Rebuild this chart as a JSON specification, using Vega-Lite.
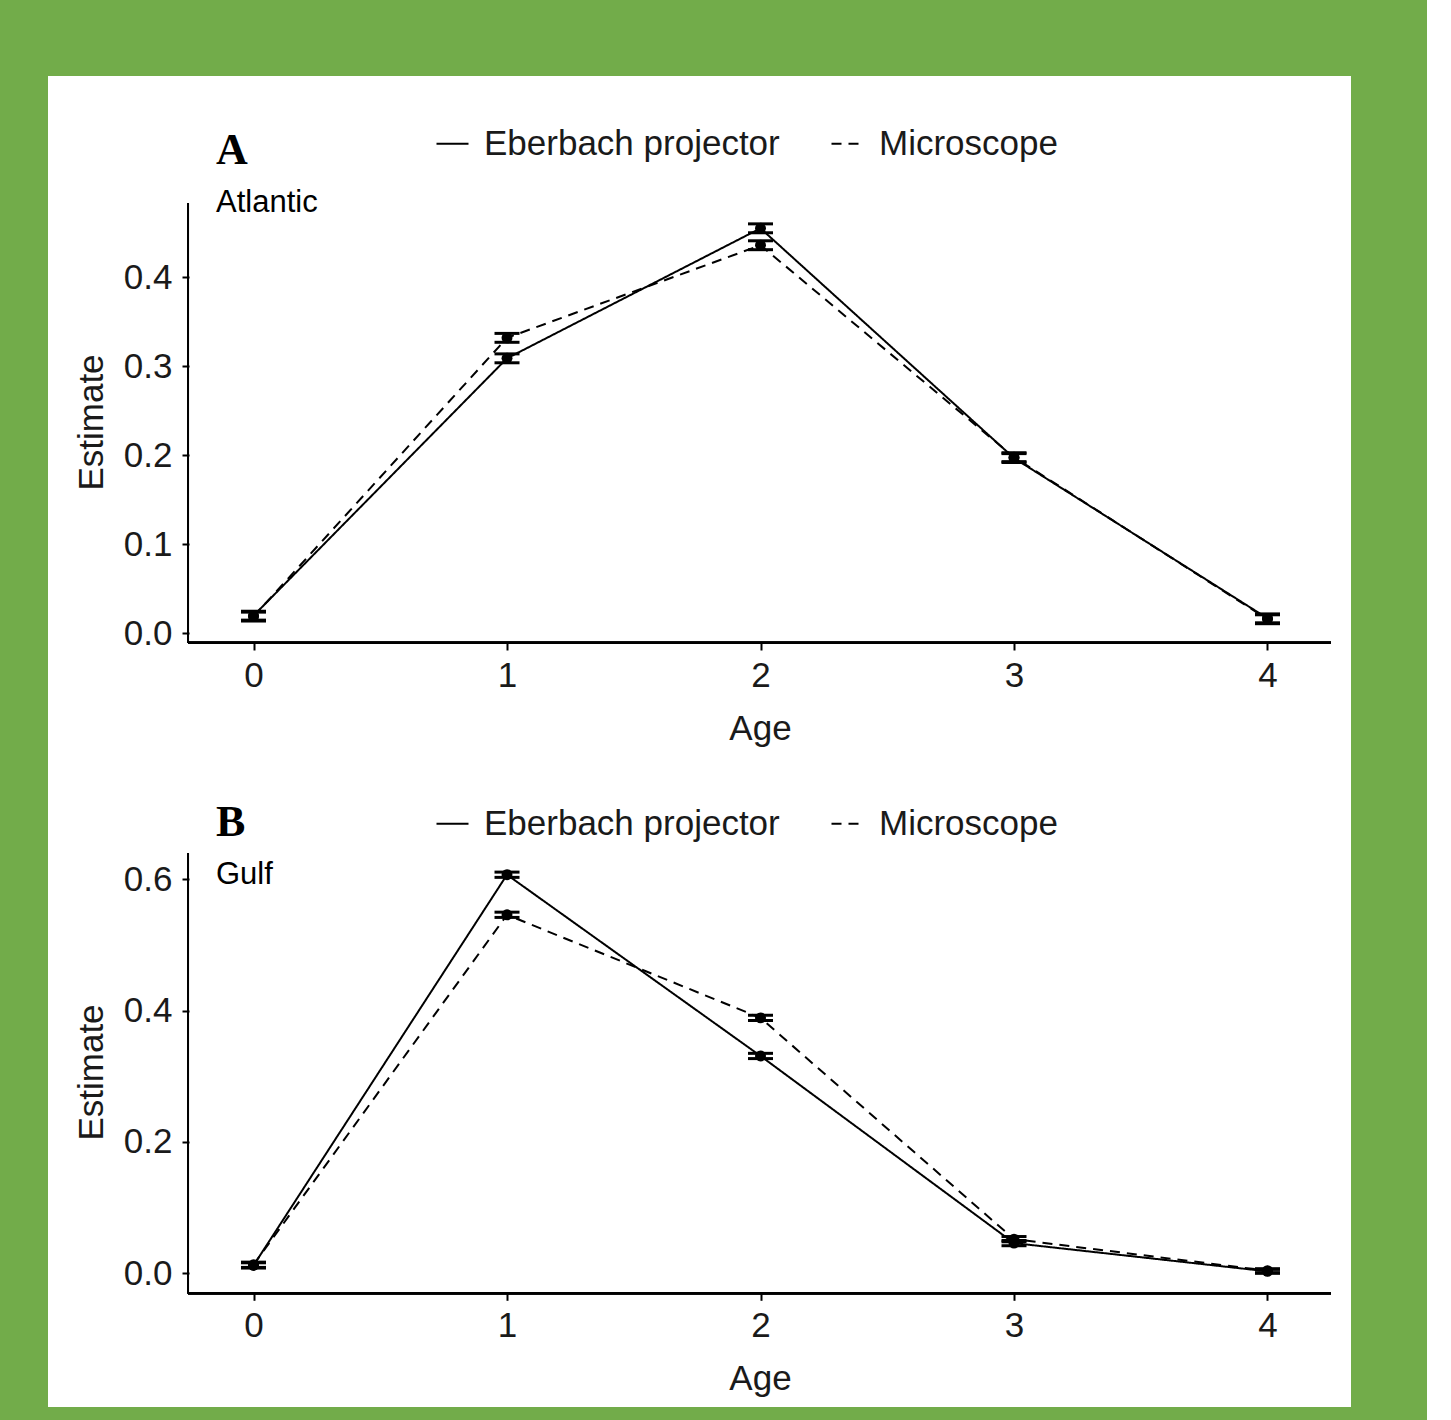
{
  "$schema": "https://vega.github.io/schema/vega-lite/v6.json",
  "background": "#72AC4A",
  "padding": {"left": 48, "top": 76, "right": 76, "bottom": 13},
  "spacing": 0,
  "bounds": "flush",
  "config": {
    "view": {"fill": "white", "stroke": null},
    "font": "Liberation Sans",
    "axis": {"domain": false, "grid": false, "tickSize": 7, "tickWidth": 2, "tickColor": "#000000", "labelFont": "Liberation Sans", "labelFontSize": 35, "labelColor": "#1a1a1a", "titleFont": "Liberation Sans", "titleFontSize": 35, "titleFontWeight": "normal", "titleColor": "#1a1a1a", "labelFlush": false, "labelOverlap": false}
  },
  "datasets": {
    "est": [
      {"region": "Atlantic", "method": "Eberbach projector", "age": 0, "estimate": 0.020, "se": 0.005},
      {"region": "Atlantic", "method": "Eberbach projector", "age": 1, "estimate": 0.309, "se": 0.005},
      {"region": "Atlantic", "method": "Eberbach projector", "age": 2, "estimate": 0.455, "se": 0.005},
      {"region": "Atlantic", "method": "Eberbach projector", "age": 3, "estimate": 0.197, "se": 0.005},
      {"region": "Atlantic", "method": "Eberbach projector", "age": 4, "estimate": 0.017, "se": 0.005},
      {"region": "Atlantic", "method": "Microscope", "age": 0, "estimate": 0.019, "se": 0.005},
      {"region": "Atlantic", "method": "Microscope", "age": 1, "estimate": 0.332, "se": 0.005},
      {"region": "Atlantic", "method": "Microscope", "age": 2, "estimate": 0.436, "se": 0.005},
      {"region": "Atlantic", "method": "Microscope", "age": 3, "estimate": 0.198, "se": 0.005},
      {"region": "Atlantic", "method": "Microscope", "age": 4, "estimate": 0.016, "se": 0.005},
      {"region": "Gulf", "method": "Eberbach projector", "age": 0, "estimate": 0.012, "se": 0.004},
      {"region": "Gulf", "method": "Eberbach projector", "age": 1, "estimate": 0.607, "se": 0.004},
      {"region": "Gulf", "method": "Eberbach projector", "age": 2, "estimate": 0.331, "se": 0.004},
      {"region": "Gulf", "method": "Eberbach projector", "age": 3, "estimate": 0.046, "se": 0.004},
      {"region": "Gulf", "method": "Eberbach projector", "age": 4, "estimate": 0.003, "se": 0.003},
      {"region": "Gulf", "method": "Microscope", "age": 0, "estimate": 0.013, "se": 0.004},
      {"region": "Gulf", "method": "Microscope", "age": 1, "estimate": 0.546, "se": 0.004},
      {"region": "Gulf", "method": "Microscope", "age": 2, "estimate": 0.389, "se": 0.004},
      {"region": "Gulf", "method": "Microscope", "age": 3, "estimate": 0.052, "se": 0.004},
      {"region": "Gulf", "method": "Microscope", "age": 4, "estimate": 0.004, "se": 0.003}
    ]
  },
  "resolve": {"scale": {"strokeDash": "independent"}, "legend": {"strokeDash": "independent"}},
  "vconcat": [
    {
      "width": 1303,
      "height": 694,
      "title": {"text": "A", "subtitle": "Atlantic", "anchor": "start", "frame": "group", "dx": 168, "offset": -142, "font": "Liberation Serif", "fontSize": 44, "fontWeight": "bold", "color": "#000000", "subtitleFont": "Liberation Sans", "subtitleFontSize": 31, "subtitleColor": "#000000", "subtitlePadding": 15},
      "data": {"name": "est"},
      "transform": [{"filter": "datum.region === 'Atlantic'"}],
      "layer": [
        {
          "mark": {"type": "line", "color": "#000000", "strokeWidth": 2},
          "encoding": {
            "x": {"field": "age", "type": "quantitative", "title": "Age", "scale": {"domain": [-0.8107, 4.3294], "nice": false, "zero": false},
                  "axis": {"title": "Age", "values": [0, 1, 2, 3, 4], "format": "d", "orient": "bottom", "offset": -127, "labelPadding": 8, "titlePadding": 18, "titleX": 712}},
            "y": {"field": "estimate", "type": "quantitative", "title": "Estimate", "scale": {"domain": [-0.15329, 0.62605], "nice": false, "zero": false},
                  "axis": {"title": "Estimate", "values": [0, 0.1, 0.2, 0.3, 0.4], "format": ".1f", "orient": "left", "offset": -141, "labelPadding": 10, "titlePadding": 14, "titleY": 346}},
            "strokeDash": {"field": "method", "type": "nominal",
                  "scale": {"domain": ["Eberbach projector", "Microscope"], "range": [[1, 0], [10, 7]]},
                  "legend": {"orient": "none", "legendX": 387, "legendY": 50, "direction": "horizontal", "title": null, "symbolType": "stroke", "symbolSize": 1024, "symbolStrokeWidth": 2, "symbolStrokeColor": "#000000", "labelFontSize": 35, "labelFont": "Liberation Sans", "labelColor": "#1a1a1a", "labelOffset": 14, "labelLimit": 500, "columnPadding": 47, "padding": 0}}
          }
        },
        {
          "mark": {"type": "rule", "color": "#000000", "strokeWidth": 2},
          "encoding": {
            "x": {"datum": -0.2584, "type": "quantitative", "title": "Age"},
            "x2": {"datum": 4.2505},
            "y": {"datum": -0.0103, "type": "quantitative", "title": "Estimate"}
          }
        },
        {
          "mark": {"type": "rule", "color": "#000000", "strokeWidth": 2},
          "encoding": {
            "x": {"datum": -0.2584, "type": "quantitative", "title": "Age"},
            "y": {"datum": -0.0103, "type": "quantitative", "title": "Estimate"},
            "y2": {"datum": 0.4834}
          }
        },
        {
          "mark": {"type": "errorbar", "color": "#000000", "thickness": 2, "opacity": 1, "rule": {"opacity": 1, "color": "#000000"}, "ticks": {"size": 25, "thickness": 3, "color": "#000000", "opacity": 1}},
          "encoding": {
            "x": {"field": "age", "type": "quantitative", "title": "Age"},
            "y": {"field": "estimate", "type": "quantitative", "title": "Estimate"},
            "yError": {"field": "se"}
          }
        },
        {
          "mark": {"type": "point", "filled": true, "size": 120, "color": "#000000", "opacity": 1},
          "encoding": {
            "x": {"field": "age", "type": "quantitative", "title": "Age"},
            "y": {"field": "estimate", "type": "quantitative", "title": "Estimate"}
          }
        }
      ]
    },
    {
      "width": 1303,
      "height": 637,
      "title": {"text": "B", "subtitle": "Gulf", "anchor": "start", "frame": "group", "dx": 168, "offset": -120, "font": "Liberation Serif", "fontSize": 44, "fontWeight": "bold", "color": "#000000", "subtitleFont": "Liberation Sans", "subtitleFontSize": 31, "subtitleColor": "#000000", "subtitlePadding": 15},
      "data": {"name": "est"},
      "transform": [{"filter": "datum.region === 'Gulf'"}],
      "layer": [
        {
          "mark": {"type": "line", "color": "#000000", "strokeWidth": 2},
          "encoding": {
            "x": {"field": "age", "type": "quantitative", "title": "Age", "scale": {"domain": [-0.8107, 4.3294], "nice": false, "zero": false},
                  "axis": {"title": "Age", "values": [0, 1, 2, 3, 4], "format": "d", "orient": "bottom", "offset": -113.7, "labelPadding": 8, "titlePadding": 18, "titleX": 712}},
            "y": {"field": "estimate", "type": "quantitative", "title": "Estimate", "scale": {"domain": [-0.2036, 0.7665], "nice": false, "zero": false},
                  "axis": {"title": "Estimate", "values": [0, 0.2, 0.4, 0.6], "format": ".1f", "orient": "left", "offset": -141, "labelPadding": 10, "titlePadding": 14, "titleY": 302}},
            "strokeDash": {"field": "method", "type": "nominal",
                  "scale": {"domain": ["Eberbach projector", "Microscope"], "range": [[1, 0], [10, 7]]},
                  "legend": {"orient": "none", "legendX": 387, "legendY": 36, "direction": "horizontal", "title": null, "symbolType": "stroke", "symbolSize": 1024, "symbolStrokeWidth": 2, "symbolStrokeColor": "#000000", "labelFontSize": 35, "labelFont": "Liberation Sans", "labelColor": "#1a1a1a", "labelOffset": 14, "labelLimit": 500, "columnPadding": 47, "padding": 0}}
          }
        },
        {
          "mark": {"type": "rule", "color": "#000000", "strokeWidth": 2},
          "encoding": {
            "x": {"datum": -0.2584, "type": "quantitative", "title": "Age"},
            "x2": {"datum": 4.2505},
            "y": {"datum": -0.0305, "type": "quantitative", "title": "Estimate"}
          }
        },
        {
          "mark": {"type": "rule", "color": "#000000", "strokeWidth": 2},
          "encoding": {
            "x": {"datum": -0.2584, "type": "quantitative", "title": "Age"},
            "y": {"datum": -0.0305, "type": "quantitative", "title": "Estimate"},
            "y2": {"datum": 0.6400}
          }
        },
        {
          "mark": {"type": "errorbar", "color": "#000000", "thickness": 2, "opacity": 1, "rule": {"opacity": 1, "color": "#000000"}, "ticks": {"size": 25, "thickness": 3, "color": "#000000", "opacity": 1}},
          "encoding": {
            "x": {"field": "age", "type": "quantitative", "title": "Age"},
            "y": {"field": "estimate", "type": "quantitative", "title": "Estimate"},
            "yError": {"field": "se"}
          }
        },
        {
          "mark": {"type": "point", "filled": true, "size": 120, "color": "#000000", "opacity": 1},
          "encoding": {
            "x": {"field": "age", "type": "quantitative", "title": "Age"},
            "y": {"field": "estimate", "type": "quantitative", "title": "Estimate"}
          }
        }
      ]
    }
  ]
}
